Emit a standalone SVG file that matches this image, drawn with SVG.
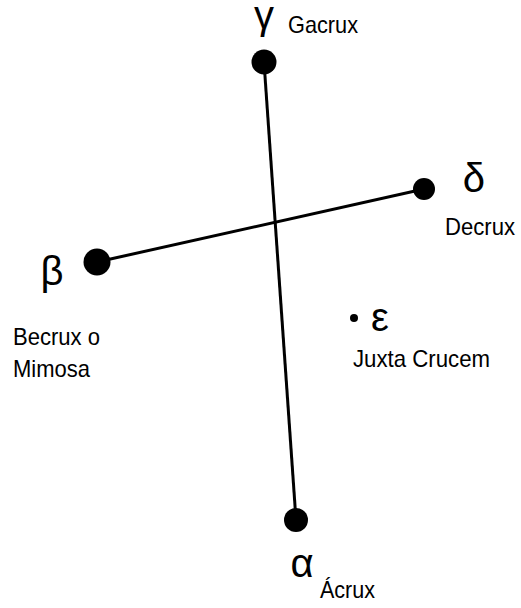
<svg xmlns="http://www.w3.org/2000/svg" width="521" height="608" viewBox="0 0 521 608">
<style>
.star{fill:#000}
.lbl{font-family:"Liberation Sans",Arial,sans-serif;font-size:24px;fill:#000}
.gr{font-family:"Liberation Sans",Arial,sans-serif;font-size:40px;fill:#000}
.ln{stroke:#000;stroke-width:3;fill:none}
</style>
<rect width="521" height="608" fill="#fff"/>
<g id="connectors">
<line class="ln" x1="264" y1="62" x2="296" y2="520"/>
<line class="ln" x1="97" y1="262" x2="424" y2="189"/>
</g>
<g id="gamma">
<circle class="star" cx="264" cy="62" r="12.5"/>
<text class="gr" x="264" y="29" text-anchor="middle">γ</text>
<text class="lbl" x="288" y="33" textLength="70" lengthAdjust="spacingAndGlyphs">Gacrux</text>
</g>
<g id="delta">
<circle class="star" cx="424" cy="189" r="11"/>
<text class="gr" x="474" y="192" text-anchor="middle">δ</text>
<text class="lbl" x="445" y="235" textLength="70" lengthAdjust="spacingAndGlyphs">Decrux</text>
</g>
<g id="beta">
<circle class="star" cx="97" cy="262" r="13.5"/>
<text class="gr" x="52" y="285" text-anchor="middle">β</text>
<text class="lbl" x="13" y="345" textLength="87" lengthAdjust="spacingAndGlyphs">Becrux o</text>
<text class="lbl" x="13" y="377" textLength="77" lengthAdjust="spacingAndGlyphs">Mimosa</text>
</g>
<g id="epsilon">
<circle class="star" cx="354" cy="318" r="4"/>
<text class="gr" x="380" y="331" text-anchor="middle">ε</text>
<text class="lbl" x="353" y="367" textLength="137" lengthAdjust="spacingAndGlyphs">Juxta Crucem</text>
</g>
<g id="alpha">
<circle class="star" cx="296" cy="520" r="12"/>
<text class="gr" x="302" y="577" text-anchor="middle">α</text>
<text class="lbl" x="320" y="598" textLength="55" lengthAdjust="spacingAndGlyphs">Ácrux</text>
</g>
</svg>
